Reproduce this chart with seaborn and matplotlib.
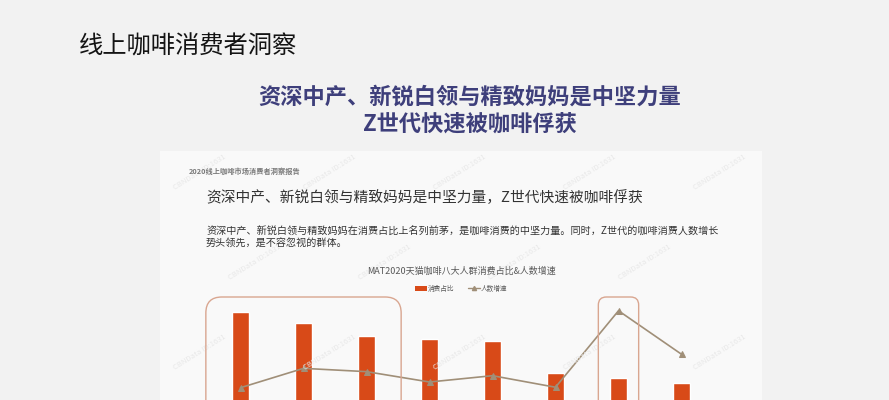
import numpy as np
import matplotlib
matplotlib.use("Agg")
import matplotlib.pyplot as plt
import matplotlib.patches as mpatches
from matplotlib.lines import Line2D
from matplotlib.transforms import IdentityTransform
import seaborn as sns

sns.set_style("white")
plt.rcParams['font.family'] = ['Noto Sans CJK SC', 'DejaVu Sans']

# data
groups = ["资深中产", "新锐白领", "精致妈妈", "小镇青年", "都市蓝领", "小镇中老年", "Z世代", "都市银发"]
share = [17.0, 15.6, 14.0, 13.6, 13.4, 9.4, 8.8, 8.2]        # 消费占比 (%)
growth = [8.2, 21.1, 18.9, 12.0, 16.2, 8.5, 59.5, 30.5]      # 人数增速 (%)
legend_labels = ["消费占比", "人数增速"]

W, H = 889, 400
bar_color = "#D84A18"
line_color = "#A08F78"
box_color = "#D9A690"


def fx(x):
    return x / W


def fy(y):
    return 1 - y / H


fig = plt.figure(figsize=(W / 100, H / 100), dpi=100)
fig.patch.set_facecolor("#f2f2f2")

# report panel
panel = mpatches.Rectangle((fx(160), fy(420)), fx(762) - fx(160), fy(151) - fy(420),
                           transform=fig.transFigure, facecolor="#f9f9f9", edgecolor="none", zorder=0)
fig.add_artist(panel)

# faint watermarks on the report panel
for row, yy in enumerate([172, 262, 352]):
    for xx in range(200, 740, 130):
        xw = xx + (row % 2) * 55
        if xw > 725:
            continue
        fig.text(fx(xw), fy(yy), "CBNData ID:1631", fontsize=5.5, color="#e8e8e8",
                 rotation=32, ha="center", va="center", zorder=0.5)

fig.text(fx(79), fy(46), "线上咖啡消费者洞察", fontsize=17.5, color="#141414", va="center", ha="left")
fig.text(fx(470), fy(97), "资深中产、新锐白领与精致妈妈是中坚力量", fontsize=16, fontweight="bold",
         color="#3E3F7B", va="center", ha="center")
fig.text(fx(470), fy(124), "Z世代快速被咖啡俘获", fontsize=16, fontweight="bold",
         color="#3E3F7B", va="center", ha="center")

fig.text(fx(189), fy(171), "2020线上咖啡市场消费者洞察报告", fontsize=5.2, fontweight="bold",
         color="#7a7a7a", va="center", ha="left")
fig.text(fx(206), fy(198), "资深中产、新锐白领与精致妈妈是中坚力量，Z世代快速被咖啡俘获",
         fontsize=10.6, color="#333333", va="center", ha="left")
fig.text(fx(206), fy(231.5), "资深中产、新锐白领与精致妈妈在消费占比上名列前茅，是咖啡消费的中坚力量。同时，Z世代的咖啡消费人数增长",
         fontsize=7.25, color="#333333", va="center", ha="left")
fig.text(fx(206), fy(244), "势头领先，是不容忽视的群体。",
         fontsize=7.25, color="#333333", va="center", ha="left")
fig.text(fx(461), fy(271), "MAT2020天猫咖啡八大人群消费占比&人数增速",
         fontsize=6.5, color="#595959", va="center", ha="center")

# chart axes: runs off the bottom of the picture like the cropped slide
ax = fig.add_axes([fx(209), fy(460), fx(713) - fx(209), fy(300) - fy(460)])
ax.set_facecolor("none")
sns.barplot(x=groups, y=share, color=bar_color, saturation=1, width=0.26, ax=ax, zorder=2)
ax.set_ylim(-10 / 8.14, 150 / 8.14)
ax.set_xlim(-0.5, len(groups) - 0.5)

ax2 = ax.twinx()
sns.lineplot(x=np.arange(len(groups)), y=growth, ax=ax2, color=line_color, linewidth=1.2,
             marker="^", markersize=5, markeredgecolor=line_color, markerfacecolor=line_color, zorder=3)
ax2.set_ylim(-40, 100 / 1.5)
ax2.set_xlim(-0.5, len(groups) - 0.5)

for a in (ax, ax2):
    sns.despine(ax=a, left=True, bottom=True, right=True, top=True)
    a.set_xticks([])
    a.set_yticks([])
    a.set_xlabel("")
    a.set_ylabel("")

# highlight boxes (display pixels derived from data positions)
fig.canvas.draw()


def add_box(x0, x1, top_px, radius):
    left = ax.transData.transform((x0, 0))[0]
    right = ax.transData.transform((x1, 0))[0]
    top = H - top_px
    box = mpatches.FancyBboxPatch((left, -80), right - left, top + 80,
                                  boxstyle=f"round,pad=0,rounding_size={radius}",
                                  transform=IdentityTransform(), facecolor="none",
                                  edgecolor=box_color, linewidth=1.0, zorder=4)
    fig.add_artist(box)


add_box(-0.55, 2.55, 297, 16)
add_box(5.68, 6.32, 297, 8)

handles = [mpatches.Patch(facecolor=bar_color, edgecolor="none"),
           Line2D([0], [0], color=line_color, linewidth=1.0, marker="^", markersize=3)]
fig.legend(handles, legend_labels, loc="center", bbox_to_anchor=(fx(461), fy(289)), ncol=2,
           frameon=False, fontsize=4.8, handlelength=1.8, handleheight=0.9,
           handletextpad=0.2, columnspacing=2.0, labelcolor="#595959")

fig.savefig("out.png", dpi=100, facecolor=fig.get_facecolor())
